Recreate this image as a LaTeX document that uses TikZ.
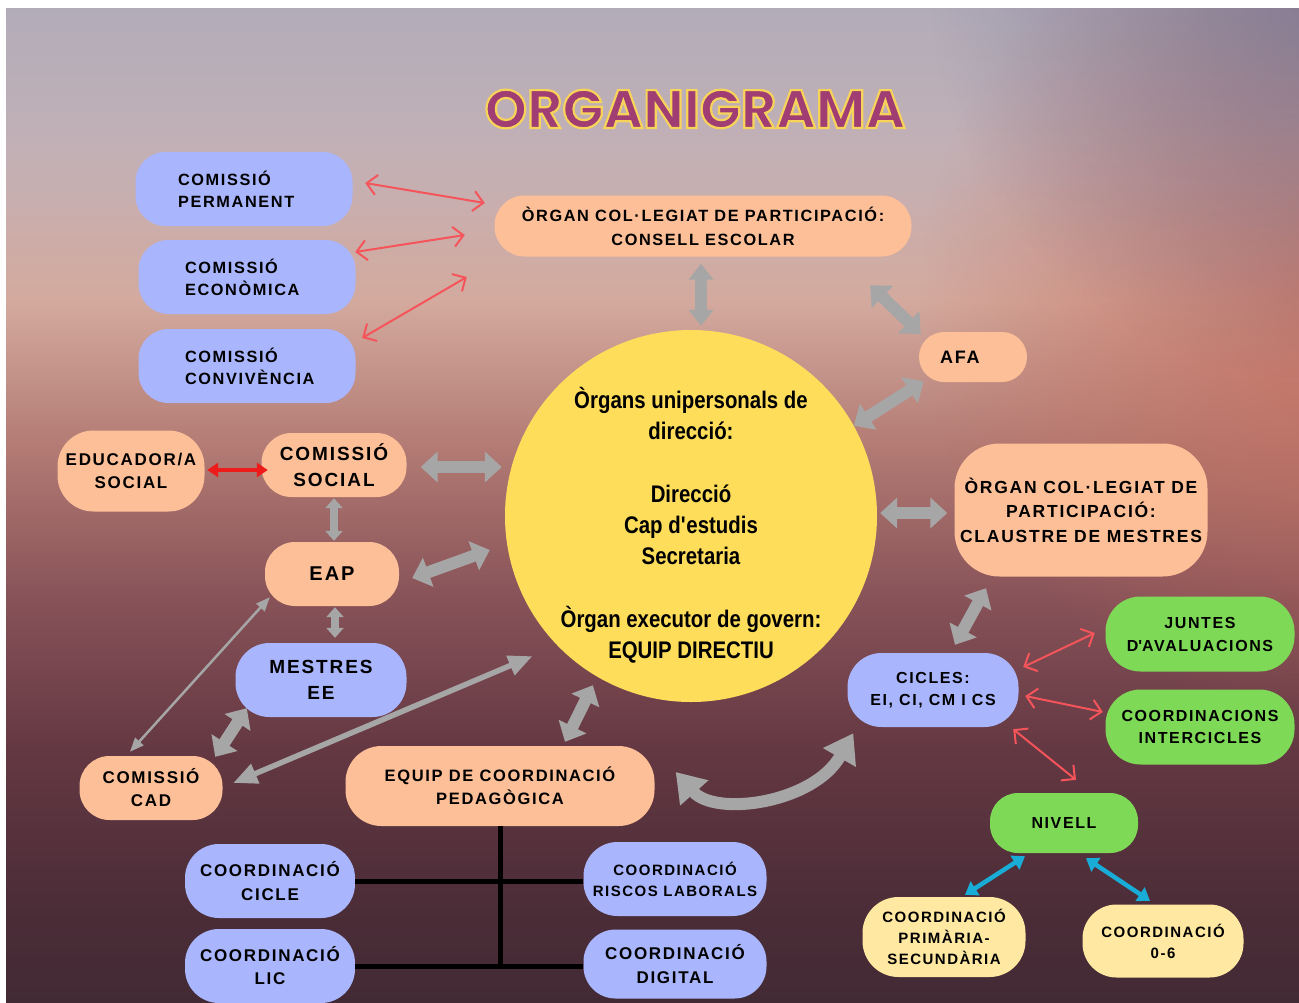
\documentclass[tikz,border=0pt]{standalone}
\usepackage{fontspec}
\setmainfont{Liberation Sans}
\newfontfamily\boxfont[LetterSpace=10]{Liberation Sans}
\newfontfamily\condfont[FakeStretch=0.85]{Liberation Sans}
\newfontfamily\titlefont{Poppins}
\usetikzlibrary{arrows.meta,fadings}

\definecolor{cblue}{HTML}{A9B6FD}
\definecolor{cpeach}{HTML}{FDBF98}
\definecolor{cyel}{HTML}{FEDD5B}
\definecolor{cgreen}{HTML}{7ED957}
\definecolor{clight}{HTML}{FFE9A2}
\definecolor{agray}{HTML}{A6A6A6}
\definecolor{ared}{HTML}{F5545A}
\definecolor{ared2}{HTML}{EE1B1B}
\definecolor{ablue}{HTML}{18ACD6}
\definecolor{ttlp}{HTML}{A03E73}
\definecolor{ttly}{HTML}{F7D35A}
\definecolor{bga}{RGB}{178,172,185}
\definecolor{bgb}{RGB}{194,176,182}
\definecolor{bgc}{RGB}{212,170,158}
\definecolor{bgd}{RGB}{178,122,115}
\definecolor{bge}{RGB}{135,82,88}
\definecolor{bgf}{RGB}{100,56,66}
\definecolor{bgg}{RGB}{76,45,56}
\definecolor{bgh}{RGB}{66,42,52}
\definecolor{bgred}{RGB}{196,108,92}
\definecolor{bgtr}{RGB}{114,112,142}

\pgfdeclareverticalshading{bgshade}{100bp}{color(0bp)=(bgh); color(25bp)=(bgh); color(30.1bp)=(bgg); color(37.7bp)=(bgf); color(45.2bp)=(bge); color(52.8bp)=(bgd); color(60.3bp)=(bgc); color(67.9bp)=(bgb); color(75bp)=(bga); color(100bp)=(bga)}
\tikzfading[name=radfade, inner color=transparent!0, outer color=transparent!100]

\newcommand\outlinedtext[1]{\special{pdf:literal direct 2 Tr 2.2 w 0.969 0.827 0.353 RG}#1\special{pdf:literal direct 0 Tr}}

\tikzset{
  fs/.style 2 args={font=\boxfont\bfseries\fontsize{#1}{#2}\selectfont},
  bx/.style={rectangle, rounded corners=30pt, inner sep=0pt, align=center, text=black},
  bluebox/.style={bx, fill=cblue},
  peachbox/.style={bx, fill=cpeach},
  greenbox/.style={bx, fill=cgreen},
  lightbox/.style={bx, fill=clight},
  ttl/.style={font=\titlefont\bfseries\fontsize{54}{60}\selectfont, inner sep=0pt},
  gbig/.style={draw=agray, line width=12pt, arrows={Triangle[width=30pt,length=17pt]-Triangle[width=30pt,length=17pt]}},
  gnarrow/.style={draw=agray, line width=12pt, arrows={Triangle[width=24pt,length=16pt]-Triangle[width=24pt,length=16pt]}},
  gsmall/.style={draw=agray, line width=8pt, arrows={Triangle[width=17pt,length=10pt]-Triangle[width=17pt,length=10pt]}},
  gthin/.style={draw=agray, line width=2.5pt, arrows={Triangle[width=11pt,length=14pt]-Triangle[width=11pt,length=14pt]}},
  gmid/.style={draw=agray, line width=5.5pt, arrows={Triangle[width=20pt,length=24pt]-Triangle[width=20pt,length=24pt]}},
  gcurve/.style={draw=agray, line width=12pt, arrows={Triangle[width=36pt,length=28pt]-Triangle[width=36pt,length=28pt]}},
  rthin/.style={draw=ared, line width=2pt, line cap=round, arrows={Straight Barb[length=10pt,width=20pt]-Straight Barb[length=10pt,width=20pt]}},
  rthick/.style={draw=ared2, line width=4pt, arrows={Triangle[width=14pt,length=11pt]-Triangle[width=14pt,length=11pt]}},
  barrow/.style={draw=ablue, line width=4.5pt, arrows={Triangle[width=16pt,length=12pt]-Triangle[width=16pt,length=12pt]}},
  bline/.style={draw=black, line width=5pt},
}

\begin{document}
\begin{tikzpicture}[x=1pt,y=-1pt]
\useasboundingbox (0,0) rectangle (1299,1002);
\fill[white] (0,0) rectangle (1299,1002);
\begin{scope}
\clip (6,8) rectangle (1299,1002);
\shade[shading=bgshade] (6,8) rectangle (1299,1002);
\fill[bgred, path fading=radfade, fill opacity=0.8] (1340,300) circle (420);
\fill[bgtr, path fading=radfade, fill opacity=0.75] (1330,-20) circle (400);

% title
\node[ttl, text=ttlp] (title) at (695,109) {\outlinedtext{ORGANIGRAMA}};

% circle
\node[circle, fill=cyel, minimum size=372pt, inner sep=0pt] (circ) at (691,516) {};
\node[font=\condfont\bfseries\fontsize{24}{31.25}\selectfont, align=center, inner sep=0pt] (ctext) at (691,525)
  {Òrgans unipersonals de\\direcció:\\[31.25pt]Direcció\\Cap d\textquotesingle estudis\\Secretaria\\[31.25pt]Òrgan executor de govern:\\EQUIP DIRECTIU};

% boxes
\node[bluebox, minimum width=217pt, minimum height=74pt, text width=132pt, align=flush left, fs={16.3}{22}] (perm) at (244,189) {COMISSIÓ\\PERMANENT};
\node[bluebox, minimum width=217pt, minimum height=74pt, text width=124pt, align=flush left, fs={16.3}{22}] (econ) at (247,277) {COMISSIÓ\\ECONÒMICA};
\node[bluebox, minimum width=217pt, minimum height=74pt, text width=124pt, align=flush left, fs={16.3}{22}] (conv) at (247,366) {COMISSIÓ\\CONVIVÈNCIA};
\node[peachbox, minimum width=417pt, minimum height=61pt, fs={16.3}{24}] (consell) at (703,226) {ÒRGAN COL·LEGIAT DE PARTICIPACIÓ:\\CONSELL ESCOLAR};
\node[peachbox, rounded corners=25pt, minimum width=108pt, minimum height=50pt, text width=66pt, align=flush left, fs={18}{22}] (afa) at (973,357) {AFA};
\node[peachbox, rounded corners=45pt, minimum width=253pt, minimum height=133pt, fs={17.5}{24.5}] (claustre) at (1081,510) {ÒRGAN COL·LEGIAT DE\\PARTICIPACIÓ:\\CLAUSTRE DE MESTRES};
\node[peachbox, rounded corners=36pt, minimum width=147pt, minimum height=81pt, fs={17}{23}] (educ) at (131,471) {EDUCADOR/A\\SOCIAL};
\node[peachbox, minimum width=145pt, minimum height=64pt, fs={19}{26}] (social) at (334,465) {COMISSIÓ\\SOCIAL};
\node[peachbox, minimum width=134pt, minimum height=64pt, fs={20}{24}] (eap) at (332,574) {EAP};
\node[bluebox, rounded corners=34pt, minimum width=171pt, minimum height=74pt, fs={19}{26}] (mestres) at (321,680) {MESTRES\\EE};
\node[peachbox, minimum width=143pt, minimum height=64pt, fs={17}{23}] (cad) at (151,788) {COMISSIÓ\\CAD};
\node[peachbox, rounded corners=36pt, minimum width=309pt, minimum height=80pt, fs={16.5}{23}] (equip) at (500,786) {EQUIP DE COORDINACIÓ\\PEDAGÒGICA};
\node[bluebox, rounded corners=34pt, minimum width=171pt, minimum height=74pt, fs={16}{22}] (cicles) at (933,690) {CICLES:\\EI, CI, CM I CS};
\node[greenbox, rounded corners=35pt, minimum width=189pt, minimum height=75pt, fs={16}{23}] (juntes) at (1200,634) {JUNTES\\D\textquotesingle AVALUACIONS};
\node[greenbox, rounded corners=35pt, minimum width=189pt, minimum height=75pt, fs={16}{22}] (inter) at (1200,727) {COORDINACIONS\\INTERCICLES};
\node[greenbox, rounded corners=28pt, minimum width=148pt, minimum height=60pt, fs={16}{22}] (nivell) at (1064,823) {NIVELL};
\node[lightbox, rounded corners=36pt, minimum width=163pt, minimum height=80pt, fs={15}{21}] (prim) at (944,937) {COORDINACIÓ\\PRIMÀRIA-\\SECUNDÀRIA};
\node[lightbox, rounded corners=34pt, minimum width=161pt, minimum height=73pt, fs={15}{21}] (c06) at (1163,941) {COORDINACIÓ\\0-6};
\node[bluebox, rounded corners=34pt, minimum width=170pt, minimum height=74pt, fs={17}{24}] (ccicle) at (270,881) {COORDINACIÓ\\CICLE};
\node[bluebox, rounded corners=34pt, minimum width=170pt, minimum height=74pt, fs={17}{23}] (clic) at (270,966) {COORDINACIÓ\\LIC};
\node[bluebox, rounded corners=34pt, minimum width=183pt, minimum height=74pt, fs={15}{21}] (riscos) at (675,879) {COORDINACIÓ\\RISCOS LABORALS};
\node[bluebox, rounded corners=32pt, minimum width=183pt, minimum height=69pt, fs={17}{24}] (digital) at (675,964) {COORDINACIÓ\\DIGITAL};

% black lines
\draw[bline] (ccicle.east) -- (ccicle.east -| riscos.west);
\draw[bline] (clic.east) -- (clic.east -| digital.west);
\draw[bline] (equip.south) -- (equip.south |- clic.east);

% grey arrows
\draw[gnarrow] ([shift={(-2,7)}]consell.south) -- ([shift={(10,-4)}]circ.north);
\draw[gbig] ([shift={(-41.5,28.5)}]consell.south east) -- ([shift={(2,-23)}]afa.west);
\draw[gbig] ([shift={(5,-1)}]afa.south west) -- (circ.29);
\draw[gbig] ([shift={(14,2)}]social.east) -- ([shift={(-3,-49)}]circ.west);
\draw[gsmall] ([shift={(0,1)}]social.south) -- ([shift={(2,-1)}]eap.north);
\draw[gbig] ([shift={(13,4)}]eap.east) -- ([shift={(-15,34)}]circ.west);
\draw[gsmall] ([shift={(3,1)}]eap.south) -- ([shift={(14,-5)}]mestres.north);
\draw[gbig] ([shift={(3,-3)}]circ.east) -- ([shift={(-7,3)}]claustre.west);
\draw[gbig] ([shift={(-95,11.5)}]claustre.south) -- ([shift={(22,-8)}]cicles.north);
\draw[gbig] ([shift={(11.5,-9)}]mestres.south west) -- ([shift={(-7.5,1)}]cad.north east);
\draw[gthin] ([shift={(5,-9)}]eap.south west) -- ([shift={(-21,-4)}]cad.north);
\draw[gmid] ([shift={(-18,18)}]circ.221) -- ([shift={(10.5,-5)}]cad.east);
\draw[gbig] ([shift={(65,-4)}]equip.north) -- ([shift={(-5,8)}]circ.240);
\draw[gcurve] ([shift={(21,-14)}]equip.east) .. controls +(40,45) and +(-40,70) .. ([shift={(6,6)}]cicles.south west);

% red arrows
\draw[rthin] ([shift={(12.5,-6)}]perm.east) -- ([shift={(-9.5,-23)}]consell.west);
\draw[rthin] ([shift={(-0.5,-25)}]econ.east) -- ([shift={(-29.5,9)}]consell.west);
\draw[rthin] ([shift={(6.5,-28)}]conv.east) -- ([shift={(-27.5,51)}]consell.west);
\draw[rthick] ([shift={(2.5,-1)}]educ.east) -- ([shift={(6.5,5)}]social.west);
\draw[rthin] ([shift={(4.5,-23)}]cicles.east) -- ([shift={(-10.5,-1)}]juntes.west);
\draw[rthin] ([shift={(6.5,6)}]cicles.east) -- ([shift={(-2.5,-15)}]inter.west);
\draw[rthin] ([shift={(-5.5,2)}]cicles.south east) -- ([shift={(12,-13)}]nivell.north);

% blue arrows
\draw[barrow] ([shift={(-39,3)}]nivell.south) -- ([shift={(21,-2)}]prim.north);
\draw[barrow] ([shift={(22,5)}]nivell.south) -- ([shift={(-13,-3.5)}]c06.north);
\end{scope}
\end{tikzpicture}
\end{document}
